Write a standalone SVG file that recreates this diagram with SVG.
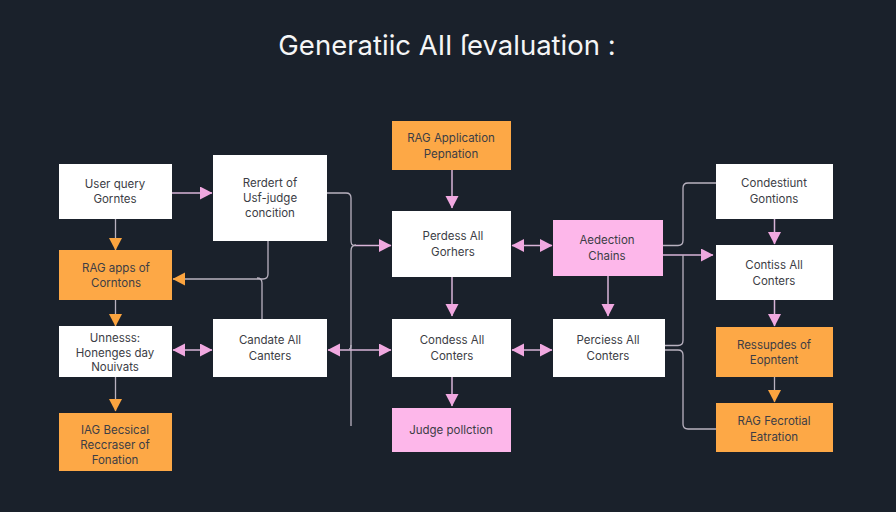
<svg xmlns="http://www.w3.org/2000/svg" width="896" height="512" viewBox="0 0 896 512">
<defs>
<marker id="p" markerUnits="userSpaceOnUse" markerWidth="13" markerHeight="14" refX="12" refY="6.500" orient="auto-start-reverse"><path d="M0 0L12.500 6.500L0 13Z" fill="#f0a8e0"/></marker>
<marker id="o" markerUnits="userSpaceOnUse" markerWidth="13" markerHeight="14" refX="12" refY="6.500" orient="auto-start-reverse"><path d="M0 0L12.500 6.500L0 13Z" fill="#fba43f"/></marker>
</defs>
<style>
text{font-family:"Inter","Liberation Sans",sans-serif;font-size:11.500px;fill:#3c3d45;text-anchor:middle}
.w{fill:#fff}.a{fill:#fda846}.k{fill:#fdb7ea}
.c{fill:none;stroke:#b9b2c0;stroke-width:1.300}
.cp{fill:none;stroke:#d9b4d8;stroke-width:1.500}
.ep{marker-end:url(#p)}.eo{marker-end:url(#o)}.sp{marker-start:url(#p)}
</style>
<rect width="896" height="512" fill="#1a212b"/>
<text id="title" x="447" y="55" style="font-size:27.500px;fill:#f4f5f6">Generatiic AII ſevaluation :</text>
<g id="connectors">
<path class="cp ep" d="M172 193H212"/>
<path class="c eo" d="M115.500 219V250"/>
<path class="c eo" d="M115.500 300V326"/>
<path class="c eo" d="M115.500 377V411"/>
<path class="c eo" d="M268 241V274Q268 279 263 279H173"/>
<path class="c" d="M262 319V283Q262 278 257 278"/>
<path class="cp ep sp" d="M173 350H212"/>
<path class="c" d="M327 193H346Q351 193 351 198V240Q351 245 353 245"/>
<path class="cp ep" d="M353 245.500H391"/>
<path class="c" d="M351 426V251Q351 245 356 245"/>
<path class="cp ep sp" d="M328 350H391"/>
<path class="c" d="M349 349Q351 349 351 345"/>
<path class="cp ep" d="M452 170V208"/>
<path class="cp ep" d="M452 277V316"/>
<path class="cp ep" d="M452 377V406"/>
<path class="cp ep sp" d="M512 245.500H552"/>
<path class="cp ep sp" d="M512 350H552"/>
<path class="cp ep" d="M608 276V316"/>
<path class="c" d="M663 245.500H678Q683 245.500 683 240.500V188Q683 183 688 183H716"/>
<path class="cp ep" d="M663 255H713"/>
<path class="c" d="M665 345.500H678Q683 345.500 683 340.500V255"/>
<path class="c" d="M665 350H678Q683 350 683 355V424Q683 429 688 429H716"/>
<path class="cp ep" d="M774.500 219V244"/>
<path class="cp ep" d="M774.500 300V326"/>
<path class="c eo" d="M774.500 377V402"/>
</g>
<g id="n1"><rect class="w" x="59" y="164" width="113" height="55"/><text x="115" y="188">User query</text><text x="115" y="203">Gorntes</text></g>
<g id="n2"><rect class="w" x="213" y="155" width="114" height="86"/><text x="270" y="187">Rerdert of</text><text x="270" y="202">Usf-judge</text><text x="270" y="217">concition</text></g>
<g id="n3"><rect class="a" x="59" y="250" width="113" height="50"/><text x="116" y="272">RAG apps of</text><text x="116" y="287">Corntons</text></g>
<g id="n4"><rect class="w" x="59" y="326" width="113" height="51"/><text x="115" y="342">Unnesss:</text><text x="115" y="357">Honenges day</text><text x="115" y="371">Nouivats</text></g>
<g id="n5"><rect class="w" x="213" y="319" width="114" height="58"/><text x="270" y="344">Candate All</text><text x="270" y="360">Canters</text></g>
<g id="n6"><rect class="a" x="59" y="413" width="113" height="58"/><text x="115" y="434">IAG Becsical</text><text x="115" y="449">Reccraser of</text><text x="115" y="464">Fonation</text></g>
<g id="n7"><rect class="a" x="392" y="121" width="119" height="49"/><text x="451" y="142">RAG Application</text><text x="451" y="158">Pepnation</text></g>
<g id="n8"><rect class="w" x="392" y="211" width="119" height="66"/><text x="453" y="240">Perdess All</text><text x="453" y="256">Gorhers</text></g>
<g id="n9"><rect class="w" x="392" y="319" width="119" height="58"/><text x="452" y="344">Condess All</text><text x="452" y="360">Conters</text></g>
<g id="n10"><rect class="k" x="392" y="408" width="119" height="44"/><text x="451" y="434">Judge pollction</text></g>
<g id="n11"><rect class="k" x="553" y="220" width="110" height="56"/><text x="607" y="244">Aedection</text><text x="607" y="260">Chains</text></g>
<g id="n12"><rect class="w" x="553" y="319" width="112" height="58"/><text x="608" y="344">Perciess All</text><text x="608" y="360">Conters</text></g>
<g id="n13"><rect class="w" x="716" y="164" width="117" height="55"/><text x="774" y="187">Condestiunt</text><text x="774" y="203">Gontions</text></g>
<g id="n14"><rect class="w" x="716" y="245" width="117" height="55"/><text x="774" y="269">Contiss All</text><text x="774" y="285">Conters</text></g>
<g id="n15"><rect class="a" x="716" y="327" width="117" height="50"/><text x="774" y="349">Ressupdes of</text><text x="774" y="364">Eopntent</text></g>
<g id="n16"><rect class="a" x="716" y="403" width="117" height="49"/><text x="774" y="425">RAG Fecrotial</text><text x="774" y="441">Eatration</text></g>
</svg>
